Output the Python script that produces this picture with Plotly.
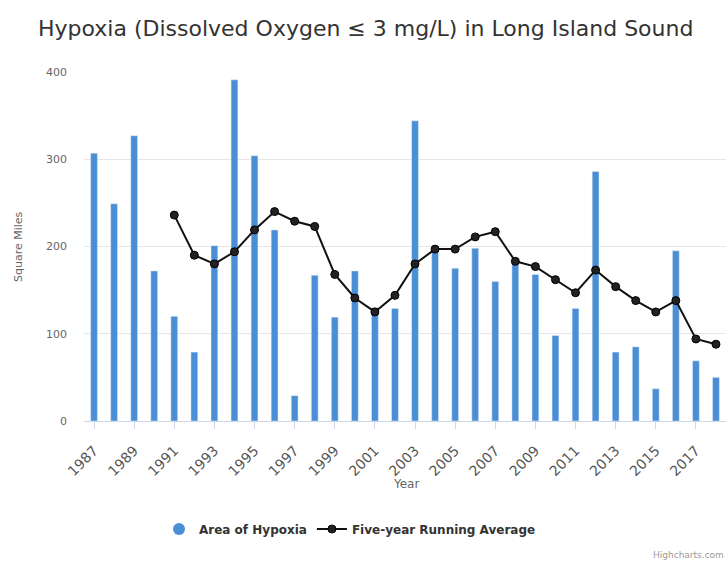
import plotly.graph_objects as go

years = list(range(1987, 2019))
area = [307, 249, 327, 172, 120, 79, 201, 391, 304, 219, 29, 167, 119, 172,
        130, 129, 344, 198, 175, 198, 160, 181, 168, 98, 129, 286, 79, 85, 37, 195, 69, 50]
avg_years = list(range(1991, 2019))
running_avg = [236, 190, 180, 194, 219, 240, 229, 223, 168, 141, 125, 144, 180, 197,
               197, 211, 217, 183, 177, 162, 147, 173, 154, 138, 125, 138, 94, 88]
tick_years = list(range(1987, 2019, 2))
y_ticks = [0, 100, 200, 300, 400]

W, H = 726, 563
L, R, T, B = 84, 0, 72, 142
pw, ph = W - L - R, H - T - B

def px_x(x):
    return (x - L) / pw

def px_y(y):
    return (H - B - y) / ph

bar_color = "#4a8fd6"
font_main = "DejaVu Sans, Verdana, sans-serif"

fig = go.Figure()
fig.add_trace(go.Bar(x=years, y=area, name="Area of Hypoxia", marker_color=bar_color,
                     width=0.34, showlegend=False))
fig.add_trace(go.Scatter(x=[None], y=[None], mode="markers", name="Area of Hypoxia",
                         marker=dict(symbol="circle", size=12, color=bar_color)))
fig.add_trace(go.Scatter(x=avg_years, y=running_avg, mode="lines+markers",
                         name="Five-year Running Average",
                         line=dict(color="#111111", width=2),
                         marker=dict(symbol="circle", size=8, color="#222222",
                                     line=dict(color="#000000", width=1))))

fig.update_layout(
    width=W, height=H,
    margin=dict(l=L, r=R, t=T, b=B),
    plot_bgcolor="white", paper_bgcolor="white",
    font=dict(family=font_main, color="#666666", size=11),
    title=dict(text="Hypoxia (Dissolved Oxygen ≤ 3 mg/L) in Long Island Sound",
               xref="container", yref="container", x=38 / W, xanchor="left",
               y=1 - 28 / H, yanchor="middle",
               font=dict(family=font_main, size=22, color="#333333")),
    xaxis=dict(range=[1986.5, 2018.5], tickmode="array", tickvals=tick_years,
               ticktext=[str(t) for t in tick_years], tickangle=-45,
               showgrid=False, showline=True, linecolor="#ccd6eb", linewidth=1,
               ticks="outside", ticklen=7, tickcolor="#ccd6eb",
               ticklabelstandoff=8,
               tickfont=dict(size=14, color="#555555", family=font_main),
               zeroline=False),
    yaxis=dict(range=[0, 400], tickmode="array", tickvals=y_ticks,
               showgrid=True, gridcolor="#e6e6e6", gridwidth=1, zeroline=False,
               ticks="", ticklabelstandoff=16,
               tickfont=dict(size=11, color="#666666", family=font_main)),
    bargap=0.6,
    legend=dict(orientation="h", xanchor="center", x=px_x(350), yanchor="middle",
                y=px_y(529), font=dict(size=12, color="#333333", family=font_main, weight="bold"),
                itemwidth=30, traceorder="normal", bgcolor="rgba(0,0,0,0)"),
    annotations=[
        dict(text="Square Miles", xref="paper", yref="paper", x=px_x(18), y=px_y(247),
             textangle=-90, showarrow=False, xanchor="center", yanchor="middle",
             font=dict(size=11, color="#666666", family=font_main)),
        dict(text="Year", xref="paper", yref="paper", x=px_x(406), y=px_y(484),
             showarrow=False, xanchor="center", yanchor="middle",
             font=dict(size=12, color="#666666", family=font_main)),
        dict(text="Highcharts.com", xref="paper", yref="paper", x=1.0, y=px_y(555),
             showarrow=False, xanchor="right", yanchor="middle",
             font=dict(size=9, color="#999999", family=font_main)),
    ],
)
fig.write_html("out.html", config={"displayModeBar": False},
               post_script="document.body.style.margin='0px';document.body.style.overflow='hidden';")
